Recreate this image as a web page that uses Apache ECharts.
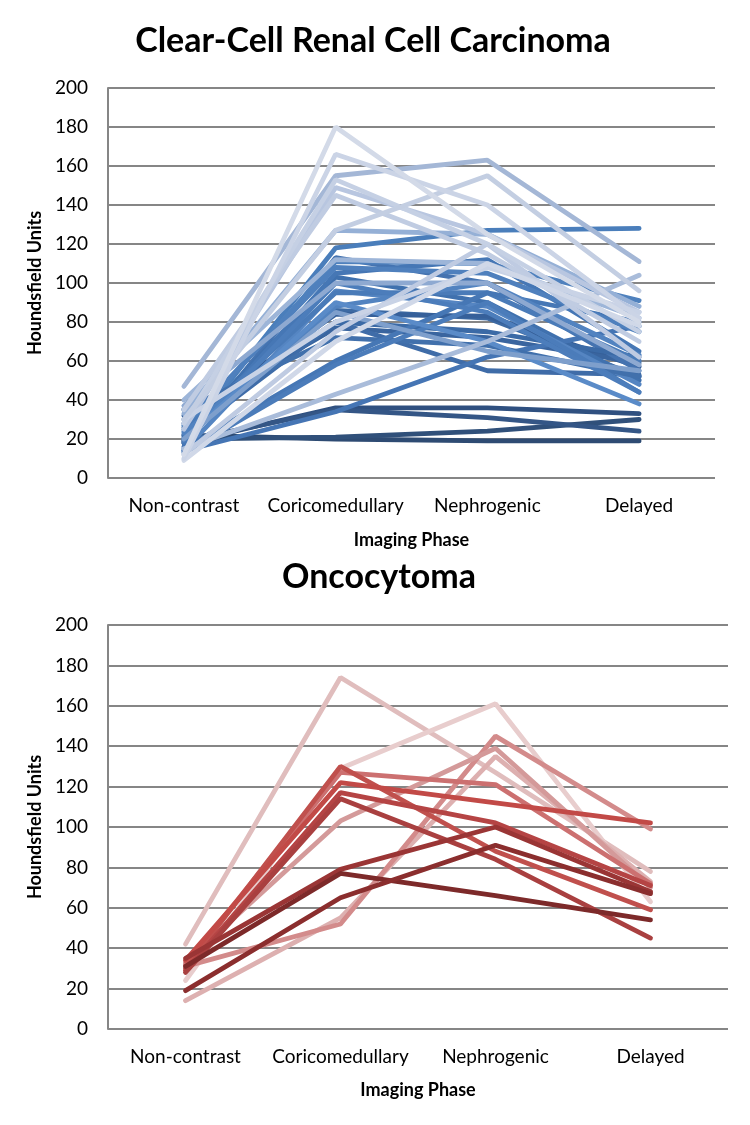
<!DOCTYPE html>
<html>
<head>
<meta charset="utf-8">
<script src="https://cdn.jsdelivr.net/npm/echarts@6/dist/echarts.min.js"></script>
<style>
  html, body { margin: 0; padding: 0; background: #ffffff; }
  #chart { width: 750px; height: 1125px; }
</style>
</head>
<body>
<div id="chart"></div>
<script>
// ---- data ----
var categories = ['Non-contrast', 'Coricomedullary', 'Nephrogenic', 'Delayed'];

var titleTop = 'Clear-Cell Renal Cell Carcinoma';
var titleBottom = 'Oncocytoma';
var yAxisName = 'Houndsfield Units';
var xAxisName = 'Imaging Phase';

// Clear-cell RCC: each entry = [Non-contrast, Coricomedullary, Nephrogenic, Delayed]
var ccrccValues = [
  [22, 20, 19, 19],
  [20, 21, 24, 30],
  [18, 36, 36, 33],
  [19, 35, 31, 24],
  [26, 86, 82, 52],
  [30, 84, 83, 57],
  [32, 77, 72, 59],
  [21, 80, 55, 53],
  [16, 113, 100, 55],
  [22, 103, 90, 50],
  [28, 80, 75, 62],
  [14, 34, 62, 78],
  [20, 118, 127, 128],
  [25, 111, 110, 91],
  [18, 105, 112, 65],
  [14, 96, 88, 48],
  [24, 95, 95, 60],
  [35, 72, 68, 52],
  [15, 60, 95, 80],
  [13, 58, 90, 44],
  [27, 108, 105, 75],
  [19, 100, 85, 44],
  [23, 88, 100, 63],
  [20, 90, 70, 38],
  [20, 85, 65, 55],
  [37, 100, 100, 58],
  [33, 127, 125, 88],
  [40, 112, 110, 82],
  [47, 155, 163, 111],
  [15, 43, 70, 104],
  [25, 149, 125, 85],
  [12, 75, 120, 62],
  [35, 145, 115, 70],
  [28, 153, 120, 75],
  [30, 80, 108, 85],
  [30, 127, 155, 96],
  [9, 70, 110, 78],
  [10, 166, 140, 82],
  [12, 180, 125, 80]
];
var ccrccColors = [
  '#2E4B73', '#30507A', '#2F5080', '#345686',
  '#3D6AA3', '#36609A', '#3A659F', '#3F6CA8',
  '#4573B0', '#4071AE', '#3B6AA6', '#4575B4',
  '#4A7EBB', '#4F81BD', '#4677B5', '#5585C2',
  '#4A7BB8', '#4170AC', '#4677B5', '#4B7CBA',
  '#4F80BD', '#4C7DBB', '#5283C0', '#5A8BC8',
  '#7E9FCC', '#8EA9D1', '#95B0D6', '#9DB5D8',
  '#A4B7D6', '#A9BCDA', '#B8C6E0', '#BFCBE2',
  '#C0CCE2', '#C5D0E4', '#C9D3E6', '#C3CEE2',
  '#D0D8E8', '#CBD4E6', '#D3DAE8'
];

// Oncocytoma
var oncoValues = [
  [42, 174, 127, 78],
  [24, 129, 161, 63],
  [14, 55, 135, 73],
  [31, 52, 145, 99],
  [33, 103, 139, 70],
  [32, 127, 121, 72],
  [30, 130, 88, 59],
  [34, 122, 112, 102],
  [29, 117, 102, 71],
  [28, 114, 84, 45],
  [35, 79, 100, 68],
  [31, 77, 66, 54],
  [19, 65, 91, 67]
];
var oncoColors = [
  '#E0BDBD', '#E8CDCD', '#DDB0B0', '#D38B8B',
  '#D49A9A', '#CC7070', '#C0504D', '#C24A47',
  '#B54444', '#A94040', '#9A3535', '#7D2A2A',
  '#8B2E2E'
];

// ---- chart ----
var chart = echarts.init(document.getElementById('chart'), null, { renderer: 'canvas' });
var font = 'Lato, "Open Sans", sans-serif';

function makeX(idx, gap) {
  return {
    type: 'category', gridIndex: idx, data: categories, boundaryGap: true,
    axisLine: { show: false }, axisTick: { show: false },
    axisLabel: { fontSize: 19, color: '#000', fontFamily: font, margin: 18, interval: 0 },
    name: xAxisName, nameLocation: 'middle', nameGap: gap,
    nameTextStyle: { fontSize: 18, fontWeight: 'bold', color: '#000', fontFamily: font }
  };
}
function makeY(idx) {
  return {
    type: 'value', gridIndex: idx, min: 0, max: 200, interval: 20,
    axisLine: { show: true, lineStyle: { color: '#868686', width: 2 } },
    axisTick: { show: false },
    splitLine: { show: true, lineStyle: { color: '#868686', width: 2 } },
    axisLabel: { fontSize: 19, color: '#000', fontFamily: font, margin: 20 },
    name: yAxisName, nameLocation: 'middle', nameRotate: 90, nameGap: 57,
    nameTextStyle: { fontSize: 18, fontWeight: 'bold', color: '#000', fontFamily: font }
  };
}

var series = [];
ccrccValues.forEach(function (vals, i) {
  series.push({
    type: 'line', xAxisIndex: 0, yAxisIndex: 0, data: vals,
    symbol: 'none', silent: true,
    lineStyle: { color: ccrccColors[i], width: 4.8, cap: 'round' }
  });
});
oncoValues.forEach(function (vals, i) {
  series.push({
    type: 'line', xAxisIndex: 1, yAxisIndex: 1, data: vals,
    symbol: 'none', silent: true,
    lineStyle: { color: oncoColors[i], width: 4.8, cap: 'round' }
  });
});

chart.setOption({
  animation: false,
  backgroundColor: '#ffffff',
  title: [
    { text: titleTop, left: 368, top: 19, textAlign: 'center',
      textStyle: { fontSize: 34, fontWeight: 'bold', color: '#000', fontFamily: font } },
    { text: titleBottom, left: 374, top: 555, textAlign: 'center',
      textStyle: { fontSize: 34, fontWeight: 'bold', color: '#000', fontFamily: font } }
  ],
  grid: [
    { left: 108, top: 88, width: 607, height: 390 },
    { left: 108, top: 625, width: 620, height: 404 }
  ],
  xAxis: [makeX(0, 53), makeX(1, 52)],
  yAxis: [makeY(0), makeY(1)],
  series: series
});
</script>
</body>
</html>
